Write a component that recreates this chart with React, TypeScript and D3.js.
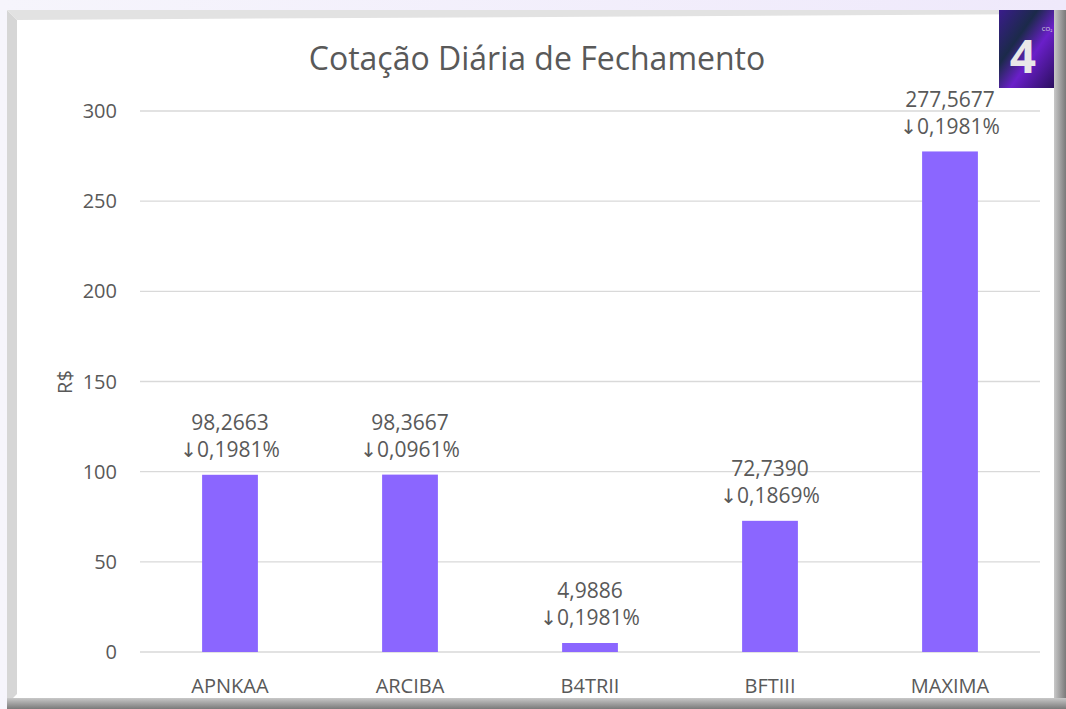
import React from 'react';
import * as d3 from 'd3';

const tickers = ['APNKAA', 'ARCIBA', 'B4TRII', 'BFTIII', 'MAXIMA'];
const closes = [98.2663, 98.3667, 4.9886, 72.739, 277.5677];
const changes = [0.1981, 0.0961, 0.1981, 0.1869, 0.1981];
const yTicks = [0, 50, 100, 150, 200, 250, 300];

const W = 1066;
const H = 709;
const FONT = "'Open Sans', 'Noto Sans', sans-serif";
const TXT = '#595959';

const fmt = (v: number, d: number) => v.toFixed(d).replace('.', ',');

export default function App() {
  const x = d3.scaleBand().domain(tickers).range([140, 1040]).paddingInner(0.69).paddingOuter(0.345);
  const y = d3.scaleLinear().domain([0, 300]).range([652, 111]);

  return (
    <svg width={W} height={H} style={{ position: 'absolute', left: 0, top: 0 }}>
      <defs>
        <linearGradient id="pagebg" x1="0" y1="0" x2="1" y2="0">
          <stop offset="0" stopColor="#f6f5fc" />
          <stop offset="1" stopColor="#efe9fb" />
        </linearGradient>
        <linearGradient id="logo" x1="0" y1="0" x2="1" y2="1">
          <stop offset="0" stopColor="#3a1c8c" />
          <stop offset="0.35" stopColor="#1b2a4a" />
          <stop offset="0.6" stopColor="#6a1fc9" />
          <stop offset="1" stopColor="#2a0f5e" />
        </linearGradient>
        <linearGradient id="rightEdge" x1="0" y1="0" x2="1" y2="0">
          <stop offset="0" stopColor="#c8c8c8" />
          <stop offset="1" stopColor="#7a7a7a" />
        </linearGradient>
        <linearGradient id="bottomEdge" x1="0" y1="0" x2="0" y2="1">
          <stop offset="0" stopColor="#c8c8c8" />
          <stop offset="1" stopColor="#7a7a7a" />
        </linearGradient>
      </defs>

      <rect x={0} y={0} width={W} height={H} fill="url(#pagebg)" />

      {/* frame with bevel */}
      <rect x={7} y={10} width={1052} height={694} fill="#ffffff" />
      <polygon points="7,10 17,20 17,694 7,704" fill="#d6d6d6" />
      <polygon points="7,10 1059,10 1049,14 17,20" fill="#e2e2e2" />
      <rect x={1054} y={10} width={12} height={699} fill="url(#rightEdge)" />
      <rect x={7} y={698} width={1059} height={11} fill="url(#bottomEdge)" />
      <rect x={17} y={20} width={1037} height={678} fill="#ffffff" />

      {/* logo */}
      <rect x={999} y={10} width={55} height={78} fill="url(#logo)" />
      <text x={1023} y={73} textAnchor="middle" fontFamily={FONT} fontWeight={700} fontSize={46} fill="#e8e8e8">4</text>
      <text x={1047} y={31} textAnchor="middle" fontFamily={FONT} fontSize={6} fill="#dddddd">CO₂</text>

      <text x={537} y={70} textAnchor="middle" fontFamily={FONT} fontSize={32} fill={TXT}>Cotação Diária de Fechamento</text>

      {yTicks.map((t) => (
        <g key={t}>
          <line x1={140} x2={1040} y1={y(t)} y2={y(t)} stroke="#d9d9d9" strokeWidth={1.3} />
          <text x={117} y={y(t)} dy="0.35em" textAnchor="end" fontFamily={FONT} fontSize={20} fill={TXT}>{t}</text>
        </g>
      ))}

      <text transform={`translate(72,382) rotate(-90)`} textAnchor="middle" fontFamily={FONT} fontSize={20} fill={TXT}>R$</text>

      {tickers.map((k, i) => {
        const bx = x(k) as number;
        const cx = bx + x.bandwidth() / 2;
        const top = y(closes[i]);
        return (
          <g key={k}>
            <rect x={bx} y={top} width={x.bandwidth()} height={y(0) - top} fill="#8b66ff" />
            <text x={cx} y={top - 52} dy="0.35em" textAnchor="middle" fontFamily={FONT} fontSize={21} fill={TXT}>{fmt(closes[i], 4)}</text>
            <text x={cx} y={top - 25} dy="0.35em" textAnchor="middle" fontFamily={FONT} fontSize={21} fill={TXT}>
              <tspan fontFamily="'DejaVu Sans', sans-serif" fontSize={20}>↓</tspan>
              {fmt(changes[i], 4) + '%'}
            </text>
            <text x={cx} y={686} dy="0.35em" textAnchor="middle" fontFamily={FONT} fontSize={20} fill={TXT}>{k}</text>
          </g>
        );
      })}
    </svg>
  );
}
